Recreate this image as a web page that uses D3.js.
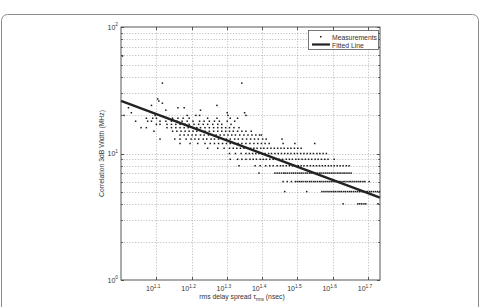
<!DOCTYPE html>
<html>
<head>
<meta charset="utf-8">
<script src="https://cdn.jsdelivr.net/npm/d3@7"></script>
<style>
  body { margin: 0; background: #fff; }
  svg { display: block; font-family: "Liberation Sans", Arial, sans-serif; }
</style>
</head>
<body>
<svg id="chart" width="484" height="307"></svg>
<script>
// correlation bandwidth levels (MHz) and the delay spreads (nsec) measured at each
const levels = [4, 5, 6, 7, 8, 9, 10, 11, 12, 13, 14, 15, 16, 17, 18, 19, 20, 21, 22, 23, 24, 25, 26, 27, 36, 59];
const spreads = [
  [42.6, 46.9, 47.5, 48.1, 48.8, 49.4, 53.5],
  [29.1, 33.6, 37.1, 37.6, 38.1, 38.6, 39.1, 39.6, 40.1, 40.6, 41.2, 41.7, 42.2, 42.8, 43.3, 43.9, 44.5, 45.0, 45.6, 46.2, 46.8, 47.4, 48.0, 48.6, 49.3, 49.9, 50.6, 51.2, 51.9, 52.6, 53.3, 54.0],
  [28.8, 29.6, 30.4, 31.2, 31.6, 32.0, 32.4, 32.8, 33.3, 33.7, 34.2, 34.6, 35.1, 35.5, 36.0, 36.5, 36.9, 37.4, 37.9, 38.4, 38.9, 39.4, 39.9, 40.4, 41.0, 41.5, 42.0, 42.6, 43.1, 43.7, 44.3, 44.8, 45.4, 46.0, 46.6, 47.2, 47.8, 48.5, 49.1, 50.5],
  [24.6, 27.3, 27.7, 28.1, 28.5, 28.9, 29.2, 29.6, 30.0, 30.4, 30.8, 31.2, 31.6, 32.0, 32.4, 32.8, 33.3, 33.7, 34.2, 34.6, 35.1, 35.5, 36.0, 36.5, 36.9, 37.4, 37.9, 38.4, 38.9, 39.4, 39.9, 40.4, 41.0, 41.5, 42.0, 42.6, 43.1, 43.7, 44.3, 44.9],
  [21.6, 24.0, 24.8, 25.7, 26.4, 27.0, 27.7, 28.3, 28.8, 29.4, 30.0, 30.6, 31.2, 31.8, 32.4, 33.0, 33.7, 34.4, 35.1, 35.8, 36.5, 37.2, 37.9, 38.7, 39.4, 40.2, 41.0, 41.8, 42.6, 43.5, 44.3],
  [20.4, 21.4, 22.0, 22.6, 23.2, 23.7, 24.2, 24.8, 25.3, 25.8, 26.4, 27.0, 27.5, 28.1, 28.7, 29.4, 30.0, 30.6, 31.3, 31.9, 32.6, 33.3, 34.0, 34.7, 35.5, 36.2, 37.0, 37.8, 38.6, 40.2],
  [20.3, 21.1, 21.9, 22.6, 23.1, 23.6, 24.1, 24.6, 25.1, 25.6, 26.2, 26.7, 27.3, 27.9, 28.5, 29.1, 29.7, 30.3, 31.0, 31.6, 32.3, 33.0, 33.7, 34.4, 35.1, 35.9, 36.6, 37.4, 38.2],
  [17.6, 18.8, 19.6, 20.3, 20.8, 21.3, 21.8, 22.3, 22.8, 23.3, 23.8, 24.3, 24.9, 25.4, 26.0, 26.6, 27.2, 27.8, 28.4, 29.0, 29.7, 30.3, 31.0, 31.7, 32.4],
  [14.7, 15.7, 16.5, 17.3, 17.9, 18.4, 18.9, 19.4, 19.9, 20.4, 20.9, 21.5, 22.0, 22.6, 23.2, 23.8, 24.4, 25.0, 25.6, 26.3, 28.8, 31.1, 35.4],
  [12.9, 14.2, 14.7, 15.3, 15.8, 16.2, 16.6, 17.1, 17.5, 18.0, 18.4, 18.9, 19.4, 19.9, 20.4, 21.0, 21.5, 22.1, 22.7, 23.3, 23.9, 24.5, 25.2, 25.8, 28.6],
  [14.7, 15.1, 15.5, 15.9, 16.3, 16.8, 17.2, 17.7, 18.1, 18.6, 19.1, 19.6, 20.1, 20.6, 21.1, 21.7, 22.3, 22.9, 23.5, 24.1, 24.7, 25.0],
  [12.4, 14.0, 14.4, 14.8, 15.2, 15.6, 16.0, 16.4, 16.9, 17.3, 17.8, 18.3, 18.8, 19.3, 19.8, 20.3, 20.8, 21.4, 22.0, 22.6, 23.4],
  [11.4, 11.8, 13.5, 13.9, 14.3, 14.7, 15.1, 15.5, 16.0, 16.4, 16.8, 17.3, 17.8, 18.3, 18.8, 19.3, 19.8, 20.3, 20.9, 21.6],
  [12.6, 12.9, 13.5, 13.9, 14.3, 14.7, 15.2, 15.6, 16.1, 16.6, 17.1, 17.6, 18.2, 18.8, 19.3, 20.5],
  [11.0, 11.9, 12.2, 12.9, 13.4, 13.9, 14.4, 14.9, 15.4, 16.0, 16.7, 17.2, 17.8, 18.4, 19.0, 20.0, 21.0],
  [11.8, 12.3, 12.6, 14.0, 14.5, 15.0, 15.6, 17.6, 18.7, 20.4, 21.4],
  [10.2, 12.5, 15.4, 16.3, 16.7, 20.1, 22.6],
  [10.7, 20.0, 22.4],
  [13.4, 16.8],
  [10.5, 14.5, 15.1],
  [12.2, 18.7],
  [13.1],
  [12.8],
  [12.7],
  [13.1, 22.0],
  [10.1]
];

// fitted line end points
const fitX = [10, 54.2];
const fitY = [26.1, 4.47];

const xTickExps = [1.1, 1.2, 1.3, 1.4, 1.5, 1.6, 1.7];
const yTickExps = [0, 1, 2];

const svg = d3.select("#chart");
const L = 121, R = 380, T = 27, B = 280;

const x = d3.scaleLog().domain([10, 54.2]).range([L, R]);
const y = d3.scaleLog().domain([1, 100]).range([B, T]);

// outer figure frame
svg.append("rect")
  .attr("x", 1.5).attr("y", 14.5).attr("width", 477).attr("height", 310)
  .attr("rx", 6).attr("fill", "#fff").attr("stroke", "#8c8c8c").attr("stroke-width", 1);

svg.append("rect")
  .attr("x", L).attr("y", T).attr("width", R - L).attr("height", B - T)
  .attr("fill", "#fff");

// grid
const grid = svg.append("g")
  .attr("stroke", "#9a9a9a").attr("stroke-width", 0.6)
  .attr("stroke-dasharray", "1.2,1.6");
grid.selectAll("line.h").data(y.ticks().filter(v => v > 1 && v < 100))
  .enter().append("line").attr("class", "h")
  .attr("x1", L).attr("x2", R)
  .attr("y1", d => Math.round(y(d)) + 0.5).attr("y2", d => Math.round(y(d)) + 0.5);
grid.selectAll("line.v").data(xTickExps)
  .enter().append("line").attr("class", "v")
  .attr("y1", T).attr("y2", B)
  .attr("x1", d => Math.round(x(Math.pow(10, d))) + 0.5)
  .attr("x2", d => Math.round(x(Math.pow(10, d))) + 0.5);

// measurements
const pts = levels.flatMap((b, i) => spreads[i].map(t => ({ t: t, b: b })));
svg.append("g").selectAll("rect").data(pts).enter().append("rect")
  .attr("x", d => x(d.t) - 0.75).attr("y", d => y(d.b) - 0.75)
  .attr("width", 1.5).attr("height", 1.5)
  .attr("fill", "#1a1a1a");

// fitted line
svg.append("path")
  .datum(d3.zip(fitX, fitY))
  .attr("d", d3.line().x(d => x(d[0])).y(d => y(d[1])))
  .attr("fill", "none").attr("stroke", "#222").attr("stroke-width", 2.4);

// axes box and inward ticks
const ax = svg.append("g").attr("stroke", "#444").attr("stroke-width", 0.9);
ax.append("rect").attr("x", L).attr("y", T).attr("width", R - L).attr("height", B - T)
  .attr("fill", "none");
xTickExps.forEach(e => {
  const px = Math.round(x(Math.pow(10, e))) + 0.5;
  ax.append("line").attr("x1", px).attr("x2", px).attr("y1", B).attr("y2", B - 3);
  ax.append("line").attr("x1", px).attr("x2", px).attr("y1", T).attr("y2", T + 3);
});
y.ticks().forEach(v => {
  const py = Math.round(y(v)) + 0.5;
  const len = [1, 10, 100].includes(v) ? 3 : 1.8;
  ax.append("line").attr("x1", L).attr("x2", L + len).attr("y1", py).attr("y2", py);
  ax.append("line").attr("x1", R).attr("x2", R - len).attr("y1", py).attr("y2", py);
});

// tick labels
const lab = svg.append("g").attr("fill", "#333").attr("font-size", 7);
xTickExps.forEach(e => {
  const t = lab.append("text").attr("x", x(Math.pow(10, e)) - 3).attr("y", B + 11)
    .attr("text-anchor", "middle");
  t.append("tspan").text("10");
  t.append("tspan").attr("font-size", 4.8).attr("dy", -3.5).text(e.toFixed(1));
});
yTickExps.forEach(e => {
  const t = lab.append("text").attr("x", L - 3).attr("y", y(Math.pow(10, e)) + 2.5)
    .attr("text-anchor", "end");
  t.append("tspan").text("10");
  t.append("tspan").attr("font-size", 4.8).attr("dy", -3.5).text(e);
});

// axis titles
const xt = lab.append("text").attr("x", 242).attr("y", 299).attr("text-anchor", "middle")
  .attr("font-size", 6.8);
xt.append("tspan").text("rms delay spread \u03c4");
xt.append("tspan").attr("font-size", 4.8).attr("dy", 2).text("rms");
xt.append("tspan").attr("dy", -2).text(" (nsec)");

lab.append("text").attr("transform", `translate(104,${(T + B) / 2}) rotate(-90)`)
  .attr("text-anchor", "middle").attr("font-size", 6.8)
  .text("Correlation 3dB Width (MHz)");

// legend
const lg = svg.append("g");
lg.append("rect").attr("x", 308.5).attr("y", 30.5).attr("width", 70).attr("height", 19)
  .attr("fill", "#fff").attr("stroke", "#555").attr("stroke-width", 0.8);
lg.append("rect").attr("x", 320).attr("y", 36).attr("width", 1.5).attr("height", 1.5)
  .attr("fill", "#1a1a1a");
lg.append("line").attr("x1", 312).attr("x2", 330).attr("y1", 44.5).attr("y2", 44.5)
  .attr("stroke", "#222").attr("stroke-width", 2.2);
lg.append("text").attr("x", 332).attr("y", 39.5).attr("font-size", 6.8).attr("fill", "#333")
  .text("Measurements");
lg.append("text").attr("x", 332).attr("y", 47.5).attr("font-size", 6.8).attr("fill", "#333")
  .text("Fitted Line");
</script>
</body>
</html>
